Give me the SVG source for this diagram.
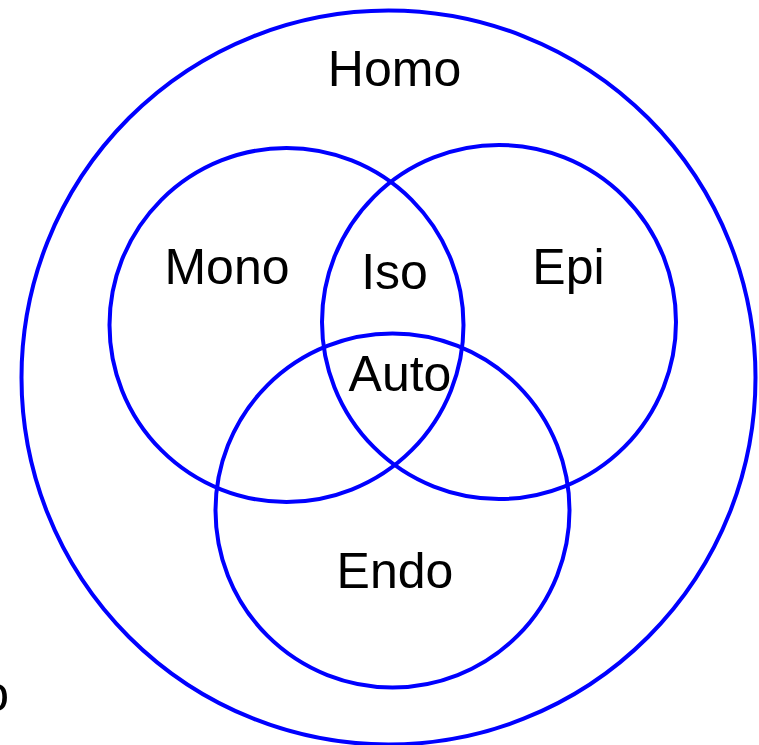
<svg xmlns="http://www.w3.org/2000/svg" width="759" height="745" viewBox="0 0 759 745">
  <style>
    .ring { fill: none; stroke: #0000ff; stroke-width: 4; }
    .lbl { font-family: "Liberation Sans", Arial, sans-serif; font-size: 50px; fill: #000; text-anchor: middle; }
  </style>
  <rect width="759" height="745" fill="#fff"/>
  <g id="homo">
    <circle class="ring" cx="388.5" cy="377.5" r="367"/>
    <text class="lbl" x="394.5" y="86">Homo</text>
  </g>
  <g id="mono">
    <circle class="ring" cx="286.5" cy="325" r="177"/>
    <text class="lbl" x="227" y="284">Mono</text>
  </g>
  <g id="epi">
    <circle class="ring" cx="499" cy="322" r="177"/>
    <text class="lbl" x="568.5" y="284">Epi</text>
  </g>
  <g id="endo">
    <circle class="ring" cx="392.5" cy="510.5" r="177"/>
    <text class="lbl" x="395" y="588">Endo</text>
  </g>
  <g id="iso">
    <text class="lbl" x="394.5" y="289">Iso</text>
  </g>
  <g id="auto">
    <text class="lbl" x="400" y="391">Auto</text>
  </g>
  <g id="hetero">
    <text class="lbl" x="9" y="711" style="text-anchor:end">o</text>
  </g>
</svg>
